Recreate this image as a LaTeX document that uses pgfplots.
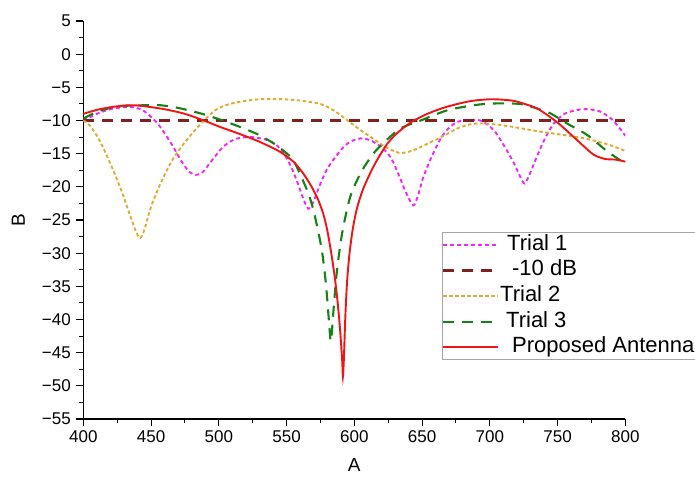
\documentclass[border=0pt]{standalone}
\usepackage{fontspec}
\setmainfont{Liberation Sans}
\usepackage{pgfplots}
\pgfplotsset{compat=1.18}

\definecolor{tone}{RGB}{240,40,240}
\definecolor{tenline}{RGB}{128,32,32}
\definecolor{ttwo}{RGB}{225,170,50}
\definecolor{tthree}{RGB}{20,130,20}
\definecolor{prop}{RGB}{240,20,20}

\begin{document}
\begin{tikzpicture}
\begin{axis}[
    scale only axis,
    width=542pt, height=398pt,
    xmin=400, xmax=800, ymin=-55, ymax=5,
    axis x line*=bottom, axis y line*=left,
    axis line style={line width=1.3pt},
    tick align=outside,
    major tick length=7pt, minor tick length=4pt,
    tick style={line width=1.1pt, black},
    xtick={400,450,...,800}, minor x tick num=1,
    ytick={-55,-50,...,5}, minor y tick num=1,
    yticklabels={−55,−50,−45,−40,−35,−30,−25,−20,−15,−10,−5,0,5},
    /pgf/number format/assume math mode=true,
    ticklabel style={font=\fontsize{17}{19}\selectfont},
    yticklabel style={xshift=-2pt},
    xticklabel style={yshift=-1pt},
    xlabel={A}, ylabel={B},
    xlabel style={font=\fontsize{19}{21}\selectfont, at={(axis description cs:0.5,-0.1156)}, anchor=center},
    ylabel style={font=\fontsize{19}{21}\selectfont, at={(axis description cs:-0.12,0.5)}, anchor=center},
    legend style={at={(rel axis cs:0.661,0.470)}, anchor=north west,
        draw=black!35, line width=0.8pt, fill=white,
        font=\fontsize{22}{24}\selectfont, inner sep=0pt, row sep=0.6pt, column sep=0pt,
        nodes={inner xsep=1pt, inner ysep=2pt, text height=16pt, text depth=5pt}},
    legend cell align=left,
    legend image code/.code={\draw[#1] (0pt,0pt) -- (55pt,0pt);},
    every axis plot/.append style={line width=1.9pt, smooth, tension=0.45},
]

% Trial 1
\addplot[tone, dash pattern=on 4pt off 3pt] coordinates {
(400,-10)(410,-9.0)(420,-8.3)(430,-8.0)(437,-8.0)(445,-8.6)(455,-10.5)(465,-13.5)
(472,-16)(478,-17.7)(483,-18.2)(488,-17.8)(495,-16.0)(503,-14.0)(510,-13.0)(516,-12.6)
(525,-12.5)(535,-12.9)(542,-13.6)(548,-15.0)(553,-16.8)(558,-19.3)(562,-21.6)(566,-23.3)
(570,-22.2)(575,-19.5)(580,-17.3)(585,-15.8)(592,-14.0)(598,-13.1)(605,-12.7)(612,-13.0)
(620,-14.0)(627,-15.6)(633,-18.3)(638,-20.8)(643.5,-22.8)(647,-21.3)(651,-18.5)(657,-15.5)
(663,-13)(668,-11.5)(675,-10.3)(683,-9.9)(693,-10)(700,-10.9)(705,-12)(712,-14.3)
(718,-16.5)(722,-18.3)(725.5,-19.5)(729,-18.3)(734,-15.8)(740,-13)(747,-10.5)(755,-9.0)
(765,-8.4)(773,-8.3)(782,-8.7)(790,-9.8)(796,-11.2)(800,-12.3)};
\addlegendentry{\hspace{7pt}Trial 1}

% -10 dB reference
\addplot[tenline, line width=2.2pt, dash pattern=on 11pt off 8pt] coordinates {(400,-10)(800,-10)};
\addlegendentry{\hspace{12pt}-10 dB}

% Trial 2
\addplot[ttwo, dash pattern=on 3.5pt off 2.5pt] coordinates {
(400,-10)(405,-10.8)(412,-13)(420,-16.5)(428,-20.5)(434,-24)(439,-26.8)(442,-27.7)
(445,-26.5)(450,-23)(457,-19.5)(465,-16.2)(473,-13.8)(481,-11.8)(489,-10)(497,-8.5)
(505,-7.7)(515,-7.2)(525,-6.9)(535,-6.75)(548,-6.8)(560,-7.0)(575,-7.5)(585,-8.5)
(595,-10)(605,-11.5)(613,-12.6)(620,-13.6)(627,-14.4)(634,-14.9)(642,-14.6)(650,-13.9)
(657,-13.2)(667,-12.2)(676,-11.2)(685,-10.6)(693,-10.45)(705,-10.6)(718,-11.0)(735,-11.6)
(755,-12.2)(770,-12.7)(780,-13.2)(790,-13.8)(800,-14.6)};
\addlegendentry{Trial 2}

% Trial 3
\addplot[tthree, line width=2.1pt, dash pattern=on 11pt off 8pt] coordinates {
(400,-9.7)(410,-8.7)(420,-8.1)(430,-7.8)(445,-7.7)(457,-7.7)(470,-8.1)(486,-8.9)
(500,-9.8)(516,-11.0)(530,-12.2)(540,-13.4)(548,-14.6)(555,-16.0)(562,-19.0)(567,-21.5)
(571,-24.5)(576,-29.5)(579,-34.5)(581,-39.5)(582.7,-43.3)(584.5,-39)(587,-33)(591,-27)
(597,-21.5)(605,-17.8)(614,-15.0)(622,-13.3)(634,-11.2)(649,-10.0)(668,-8.5)(685,-7.8)
(700,-7.45)(722,-7.5)(735,-8.2)(745,-8.95)(757,-10.45)(772,-12.2)(787,-14.7)(800,-16.5)};
\addlegendentry{\hspace{6pt}Trial 3}

% Proposed antenna
\addplot[prop, solid] coordinates {
(400,-9.0)(410,-8.4)(420,-8.0)(430,-7.75)(437,-7.7)(445,-7.85)(460,-8.3)(475,-9.0)
(489,-10.0)(500,-10.9)(515,-12.0)(530,-13.2)(545,-14.7)(555,-16.2)(562,-17.9)(568,-19.8)
(573,-21.8)(577,-24.0)(580,-26.5)(583,-30.0)(585.5,-33.5)(587.5,-37)(589.5,-41.5)(591,-46)
(591.6,-48.6)(592.3,-46)(593.3,-40)(594.6,-34.5)(596.5,-30)(599,-26.2)(602,-23.2)(606,-20.6)
(610,-18.7)(614,-17)(619,-15.2)(624,-13.6)(630,-12.2)(637,-11)(644,-10)(655,-8.9)
(668,-7.95)(685,-7.1)(700,-6.8)(712,-6.9)(720,-7.15)(735,-8.2)(748,-10.0)(755,-11.2)
(762,-12.5)(770,-14.0)(777,-15.2)(785,-15.8)(793,-15.9)(800,-16.2)};
\addlegendentry{\hspace{12pt}Proposed Antenna\rule{30pt}{0pt}}

\coordinate (ll) at (rel axis cs:0,0);
\end{axis}
\pgfresetboundingbox
\path[use as bounding box] (ll) ++(-83.3pt,-57pt) rectangle ++(695pt,476pt);
\end{tikzpicture}
\end{document}
